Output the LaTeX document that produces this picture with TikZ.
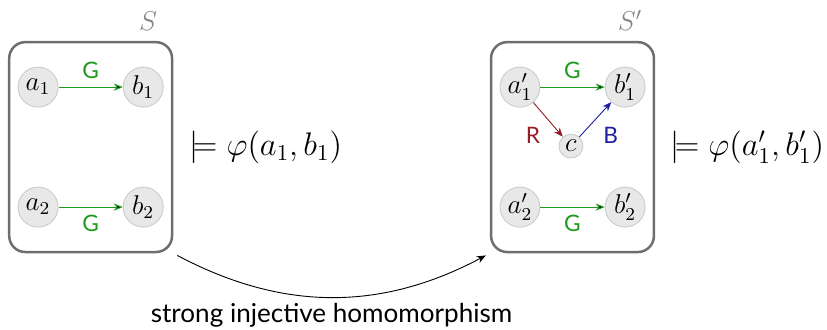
\documentclass[tikz,border=0pt]{standalone}
\usepackage{fontspec}
\setmainfont{Lato}
\usetikzlibrary{positioning, arrows.meta, fit}
\definecolor{cG}{RGB}{30,155,30}
\definecolor{cR}{RGB}{150,30,40}
\definecolor{cB}{RGB}{30,30,160}
\definecolor{cFrame}{RGB}{110,110,110}
\definecolor{cElem}{RGB}{232,232,232}

\begin{document}
\begin{tikzpicture}[node distance=1.86cm and 1.63cm, on grid, auto, >={Stealth[length=4pt,width=3.2pt]},
    elem/.style={circle, fill=cElem, draw=cElem!88!black, minimum size=0.62cm, inner sep=0pt, font=\large},
    small elem/.style={elem, minimum size=0.37cm},
    frame/.style={draw=cFrame, line width=1.1pt, rounded corners=0.25cm, inner xsep=0.13cm, inner ysep=0.38cm},
    setname/.style={text=cFrame!85!white, font=\large}]
    \useasboundingbox (0,0) rectangle (12.82,-5.10);

    % structure S
    \node[elem] (a1) at (0.59,-1.35) {$a_1$};
    \node[elem] (b1) [right=of a1] {$b_1$};
    \node[elem] (a2) [below=of a1] {$a_2$};
    \node[elem] (b2) [right=of a2] {$b_2$};
    \node[frame, fit=(a1)(b2)] (S) {};
    \node[setname] at ([xshift=-0.39cm, yshift=0.31cm]S.north east) {$S$};
    \node[anchor=west, font=\Large] (phiS) at ([xshift=0.12cm]S.east) {$\models \varphi(a_1,b_1)$};

    % structure S'
    \node[elem] (a1p) at (8.06,-1.35) {$a'_1$};
    \node[elem] (b1p) [right=of a1p] {$b'_1$};
    \node[elem] (a2p) [below=of a1p] {$a'_2$};
    \node[elem] (b2p) [right=of a2p] {$b'_2$};
    \node[small elem] (c) at (8.85,-2.265) {$c$};
    \node[frame, fit=(a1p)(b2p)] (Sp) {};
    \node[setname] at ([xshift=-0.39cm, yshift=0.31cm]Sp.north east) {$S'$};
    \node[anchor=west, font=\Large] (phiSp) at ([xshift=0.12cm]Sp.east) {$\models \varphi(a'_1,b'_1)$};

    \path[->, draw=cG, text=cG]
    (a1) edge node {G} (b1)
    (a2) edge node[swap] {G} (b2)
    (a1p) edge node {G} (b1p)
    (a2p) edge node[swap] {G} (b2p);
    \path[->]
    (a1p) edge[draw=cR] node[swap, text=cR] {R} (c)
    (c) edge[draw=cB] node[swap, text=cB] {B} (b1p);

    \draw[->, shorten <=2pt, shorten >=2pt] (S.south east) to[bend right=28]
        node[pos=0.5, anchor=center, yshift=-0.29cm, font=\fontsize{11.5}{14}\selectfont] {strong injective homomorphism} (Sp.south west);
\end{tikzpicture}
\end{document}
